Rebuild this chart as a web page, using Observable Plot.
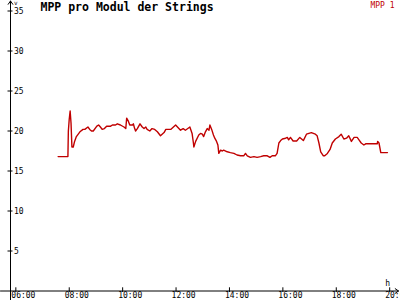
<!DOCTYPE html>
<html><head><meta charset="utf-8">
<script src="https://cdn.jsdelivr.net/npm/d3@7"></script>
<script src="https://cdn.jsdelivr.net/npm/@observablehq/plot@0.6"></script>
<style>
html,body{margin:0;padding:0;background:#fff;}
#chart svg{display:block;}
</style>
</head><body><div id="chart"></div>
<script>
const title = "MPP pro Modul der Strings";
const seriesName = "MPP 1";
const yUnit = "V";
const xUnit = "h";
const xTickHours = [6, 8, 10, 12, 14, 16, 18, 20];
const yTickValues = [5, 10, 15, 20, 25, 30, 35];
const times = ["07:35","07:57","07:58","08:00","08:02","08:04","08:06","08:09","08:12","08:16","08:24","08:31","08:35","08:42","08:46","08:50","08:54","09:02","09:06","09:10","09:14","09:19","09:24","09:33","09:37","09:44","09:48","09:55","10:03","10:07","10:09","10:13","10:16","10:22","10:24","10:27","10:29","10:33","10:39","10:44","10:48","10:52","10:55","11:01","11:06","11:12","11:18","11:25","11:33","11:37","11:48","11:59","12:10","12:16","12:21","12:31","12:36","12:39","12:40","12:44","12:51","12:55","12:59","13:02","13:06","13:10","13:14","13:16","13:20","13:24","13:27","13:31","13:34","13:36","13:40","13:44","13:47","13:55","14:02","14:10","14:17","14:25","14:32","14:36","14:40","14:47","14:55","15:02","15:10","15:17","15:25","15:31","15:36","15:43","15:47","15:51","15:55","15:59","16:06","16:10","16:13","16:17","16:23","16:31","16:38","16:46","16:53","17:04","17:13","17:17","17:21","17:25","17:31","17:34","17:40","17:46","17:51","17:58","18:06","18:11","18:17","18:23","18:28","18:34","18:40","18:47","18:51","18:56","19:02","19:06","19:32","19:33","19:36","19:40","19:55"];
const mpp = [16.8,16.8,20.0,21.5,22.5,21.0,18.0,18.0,18.7,19.3,19.9,20.2,20.2,20.5,20.2,20.0,20.0,20.6,20.75,20.5,20.2,20.3,20.6,20.6,20.75,20.75,20.9,20.75,20.5,20.3,21.6,21.2,20.75,20.75,20.9,20.3,20.0,20.3,20.9,20.5,20.3,20.5,20.2,20.0,20.3,20.2,19.9,19.4,19.8,20.2,20.2,20.75,20.1,20.3,20.1,20.5,19.7,18.5,18.0,18.7,19.5,19.7,19.6,19.3,19.9,20.3,20.1,20.75,20.2,19.5,19.1,18.7,18.25,17.2,17.6,17.5,17.6,17.4,17.3,17.2,17.0,16.9,16.9,17.2,16.9,16.7,16.8,16.7,16.8,16.9,16.9,16.7,16.9,16.9,17.2,18.5,18.8,19.0,19.1,19.2,18.9,19.2,18.75,18.75,19.2,18.8,19.6,19.8,19.6,19.4,18.5,17.4,16.9,16.9,17.2,17.7,18.5,19.0,19.3,19.6,19.0,19.1,19.4,18.7,19.2,19.2,18.9,18.5,18.25,18.4,18.4,18.7,18.5,17.3,17.3];

const toH = s => { const [h, m] = s.split(":").map(Number); return h + m / 60; };
const data = times.map((t, i) => ({h: toH(t), v: mpp[i]}));
const pad2 = n => String(n).padStart(2, "0");
const fmtH = h => pad2(h) + ":00";

const W = 400, H = 300, mL = 10, mR = 2, mT = 10.5, mB = 9.5;
const xMin = 5.8, xMax = 20.33;
const pxPerH = (W - mL - mR) / (xMax - xMin);
const pxPerV = (H - mT - mB) / 35;
const font = "'DejaVu Sans Mono', 'Liberation Mono', monospace";
const red = "#c00000";

const chart = Plot.plot({
  width: W, height: H,
  marginLeft: mL, marginRight: mR, marginTop: mT, marginBottom: mB,
  style: {fontFamily: font, background: "#fff", color: "#000"},
  x: {domain: [xMin, xMax], axis: null},
  y: {domain: [0, 35], axis: null},
  marks: [
    Plot.arrow([0], {x1: xMin - mL / pxPerH, y1: 0, x2: xMax, y2: 0, stroke: "#000", strokeWidth: 1, headLength: 6, headAngle: 70}),
    Plot.arrow([0], {x1: xMin, y1: -mB / pxPerV, x2: xMin, y2: 35 + (mT - 0.5) / pxPerV, stroke: "#000", strokeWidth: 1, headLength: 6, headAngle: 70}),
    Plot.ruleX(xTickHours, {x: d => d, y1: -1.5 / pxPerV, y2: 3.2 / pxPerV, stroke: "#000"}),
    Plot.text(xTickHours, {x: d => d, y: 0, text: fmtH, textAnchor: "start", dx: -4.5, dy: 4.8, fontSize: 8, fill: "#000", lineAnchor: "middle"}),
    Plot.ruleY(yTickValues, {y: d => d, x1: xMin - 2.5 / pxPerH, x2: xMin + 2.5 / pxPerH, stroke: "#000"}),
    Plot.text(yTickValues, {x: xMin, y: d => d, text: d => String(d), textAnchor: "start", dx: 3.5, fontSize: 8, fill: "#000", lineAnchor: "middle"}),
    Plot.text([yUnit], {x: xMin, y: 35, text: d => d.toLowerCase(), textAnchor: "start", dx: 3.5, dy: -8, fontSize: 6, fill: "#000", lineAnchor: "middle"}),
    Plot.text([xUnit], {x: 20, y: 0, text: d => d, textAnchor: "middle", dx: -2, dy: -8, fontSize: 8, fill: "#000", lineAnchor: "middle"}),
    Plot.line(data, {x: "h", y: "v", stroke: red, strokeWidth: 1.4}),
    Plot.text([title], {frameAnchor: "top-left", text: d => d, dx: 30, dy: -3.8, fontSize: 11.5, fontWeight: "bold", fill: "#000", textAnchor: "start", lineAnchor: "middle"}),
    Plot.text([seriesName], {frameAnchor: "top-right", text: d => d, dx: -4, dy: -5.8, fontSize: 8, fill: red, textAnchor: "end", lineAnchor: "middle"})
  ]
});
document.getElementById("chart").appendChild(chart);
</script>
</body></html>
